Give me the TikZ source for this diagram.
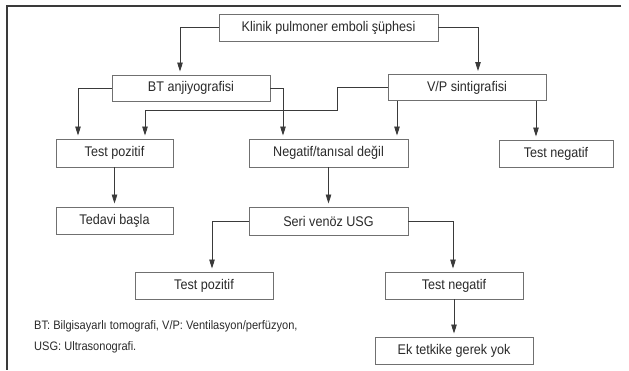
\documentclass[tikz,border=0pt]{standalone}
\usepackage{fontspec}
\setmainfont[FakeStretch=0.9]{Liberation Sans}
\usetikzlibrary{arrows.meta}
\definecolor{linecol}{HTML}{3A3A3A}
\definecolor{boxcol}{HTML}{707070}
\definecolor{textcol}{HTML}{2A2A2A}
\tikzset{
  box/.style={draw=boxcol, line width=0.9pt, fill=white, inner sep=0pt,
    text=textcol, font=\fontsize{14}{16}\selectfont},
  flow/.style={draw=linecol, line width=0.8pt,
    -{Triangle[length=9pt,width=5.5pt]}, shorten >=3pt},
  legend/.style={anchor=west, inner sep=0pt, text=textcol,
    font=\fontsize{12.3}{14}\selectfont},
}
\begin{document}
\begin{tikzpicture}[x=1pt,y=-1pt]
  \useasboundingbox (0,0) rectangle (629,370);
  % outer frame: top and left rules
  \draw[linecol, line width=1.3pt] (621,6) -- (7,6) -- (7,370);

  % boxes
  \node[box, minimum width=219pt, minimum height=27pt] (klinik) at (328.5,27.5) {Klinik pulmoner emboli şüphesi};
  \node[box, minimum width=158pt, minimum height=26pt] (bt) at (191,88) {BT anjiyografisi};
  \node[box, minimum width=158pt, minimum height=26pt] (vp) at (467,87.5) {V/P sintigrafisi};
  \node[box, minimum width=117pt, minimum height=28pt] (tpa) at (114.5,153) {Test pozitif};
  \node[box, minimum width=159pt, minimum height=28pt] (neg) at (328.5,153) {Negatif/tanısal değil};
  \node[box, minimum width=114pt, minimum height=27pt] (tna) at (556,153.5) {Test negatif};
  \node[box, minimum width=117pt, minimum height=27pt] (ted) at (114.5,220.5) {Tedavi başla};
  \node[box, minimum width=159pt, minimum height=28pt] (seri) at (328.5,221) {Seri venöz USG};
  \node[box, minimum width=138pt, minimum height=27pt] (tpb) at (204,285.5) {Test pozitif};
  \node[box, minimum width=138pt, minimum height=27pt] (tnb) at (454,285.5) {Test negatif};
  \node[box, minimum width=158pt, minimum height=27pt] (ek) at (454,350.5) {Ek tetkike gerek yok};

  % legend
  \node[legend] (lega) at (34,326) {BT: Bilgisayarlı tomografi, V/P: Ventilasyon/perfüzyon,};
  \node[legend] (legb) at (34,347) {USG: Ultrasonografi.};

  % connectors
  \draw[flow] (klinik.west) -| ([xshift=-11pt]bt.north);
  \draw[flow] (klinik.east) -| ([xshift=11pt]vp.north);
  \draw[flow] (bt.west) -| ([xshift=-36.5pt]tpa.north);
  \draw[flow] (bt.east) -| ([xshift=-45.5pt]neg.north);
  \coordinate (vpbend) at (337,110);
  \draw[flow] (vp.west) -| (vpbend) -| ([xshift=30.5pt]tpa.north);
  \draw[flow] ([xshift=-70pt]vp.south) -- ([xshift=-70pt]vp.south |- neg.north);
  \draw[flow] ([xshift=69pt]vp.south) -- ([xshift=69pt]vp.south |- tna.north);
  \draw[flow] (tpa.south) -- (ted.north);
  \draw[flow] (neg.south) -- (seri.north);
  \draw[flow] (seri.west) -| ([xshift=8pt]tpb.north);
  \draw[flow] (seri.east) -| ([xshift=-1pt]tnb.north);
  \draw[flow] (tnb.south) -- (ek.north);
\end{tikzpicture}
\end{document}
